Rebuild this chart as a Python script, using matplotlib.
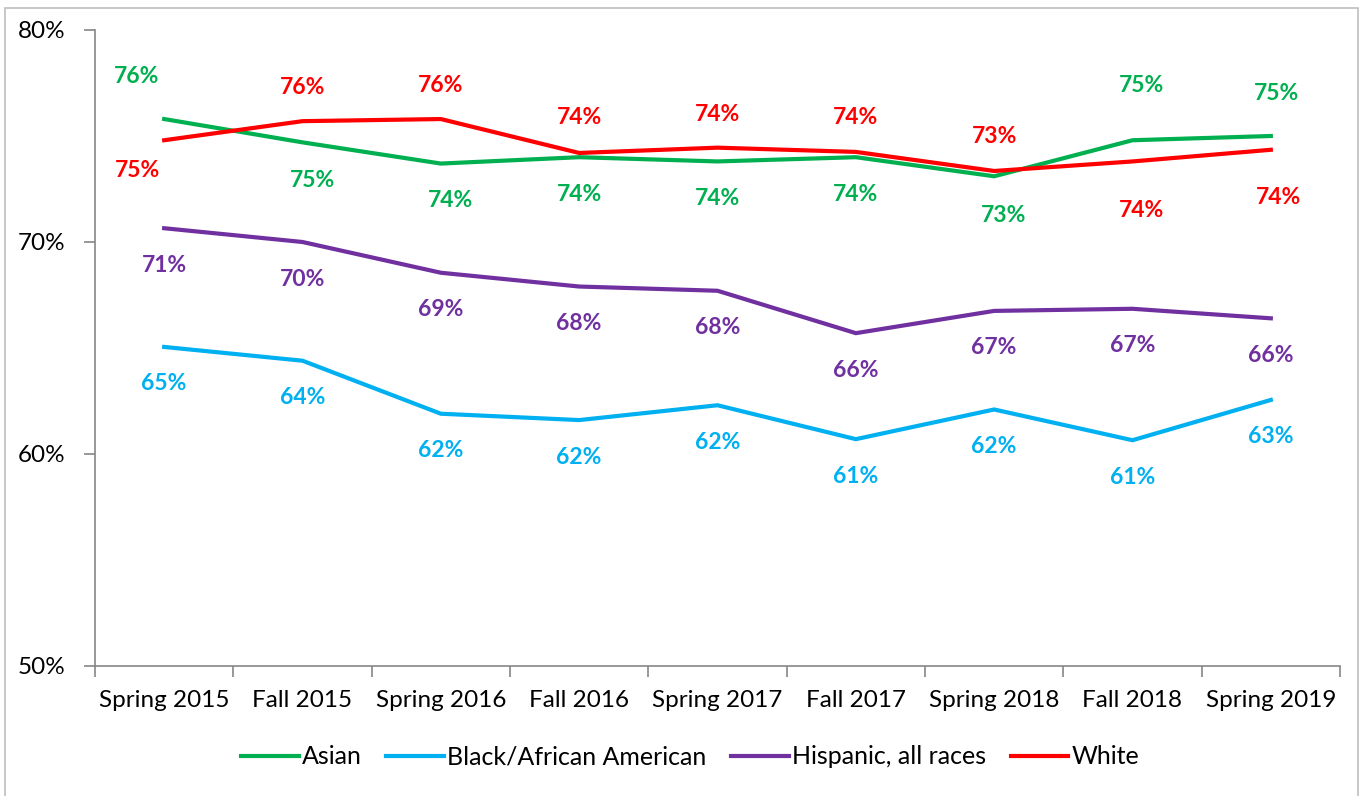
import matplotlib
matplotlib.use('Agg')
import matplotlib.pyplot as plt
from matplotlib.patches import Rectangle
from matplotlib.ticker import FixedLocator, FuncFormatter

terms = ['Spring 2015', 'Fall 2015', 'Spring 2016', 'Fall 2016', 'Spring 2017',
         'Fall 2017', 'Spring 2018', 'Fall 2018', 'Spring 2019']

asian = [75.8, 74.7, 73.7, 74.0, 73.8, 74.0, 73.1, 74.8, 75.0]
black = [65.05, 64.4, 61.9, 61.6, 62.3, 60.7, 62.1, 60.65, 62.55]
hispanic = [70.65, 70.0, 68.55, 67.9, 67.7, 65.7, 66.75, 66.85, 66.4]
white = [74.8, 75.7, 75.8, 74.2, 74.45, 74.25, 73.35, 73.8, 74.35]

# label offsets (pixels, + is down) tuned to match the reference
asian_off = [(-28, -43), (10, 38), (10, 37), (0, 37), (0, 37), (0, 37), (9, 39), (9, -55), (6, -42)]
white_off = [(-27, 30), (0, -34), (0, -34), (0, -35), (0, -33), (0, -34), (0, -34), (9, 49), (8, 48)]
hisp_off = [(0, 37)] * 9
black_off = [(0, 37)] * 9

series = [
    ('Asian', asian, '#00B050', asian_off),
    ('Black/African American', black, '#00B0F0', black_off),
    ('Hispanic, all races', hispanic, '#7030A0', hisp_off),
    ('White', white, '#FF0000', white_off),
]

plt.rcParams['font.family'] = ['Lato', 'DejaVu Sans']

fig = plt.figure(figsize=(13.72, 7.96), dpi=100)
ax = fig.add_axes([95 / 1372, 1 - 666 / 796, (1340 - 95) / 1372, (666 - 30) / 796])

x = list(range(len(terms)))
px = 0.72  # points per pixel at 100 dpi
for name, vals, col, offs in series:
    ax.plot(x, vals, color=col, lw=3, label=name, solid_joinstyle='miter')
    for xi, v, (dx, dy) in zip(x, vals, offs):
        ax.annotate(f'{round(v):.0f}%', (xi, v), xytext=(dx * px, -dy * px),
                    textcoords='offset points', ha='center', va='center',
                    color=col, fontsize=16.5, fontweight='bold')

ax.set_xlim(-0.5, len(terms) - 0.5)
ax.set_ylim(50, 80)
ax.yaxis.set_major_locator(FixedLocator([50, 60, 70, 80]))
ax.yaxis.set_major_formatter(FuncFormatter(lambda v, p: f'{v:.0f}%'))
ax.set_xticks(x)
ax.set_xticklabels(terms)
ax.set_xticks([i - 0.5 for i in range(len(terms) + 1)], minor=True)
ax.tick_params(axis='x', which='major', length=0, pad=17, labelsize=17.5)
ax.tick_params(axis='x', which='minor', length=8, color='#868686', width=1.2)
ax.tick_params(axis='y', length=8, color='#868686', width=1.2, pad=13, labelsize=17.5)
for s in ['top', 'right']:
    ax.spines[s].set_visible(False)
for s in ['left', 'bottom']:
    ax.spines[s].set_color('#868686')
    ax.spines[s].set_linewidth(1.2)

fig.legend(loc='center', bbox_to_anchor=(0.503, 1 - 757 / 796), ncol=4, frameon=False,
           fontsize=18, handlelength=2.3, handletextpad=0.12, columnspacing=1.0)

fig.patches.append(Rectangle((5 / 1372, -0.01), 1353 / 1372, 1.0, transform=fig.transFigure,
                             fill=False, edgecolor='#BFBFBF', lw=1.2))

fig.savefig('out.png', dpi=100)
